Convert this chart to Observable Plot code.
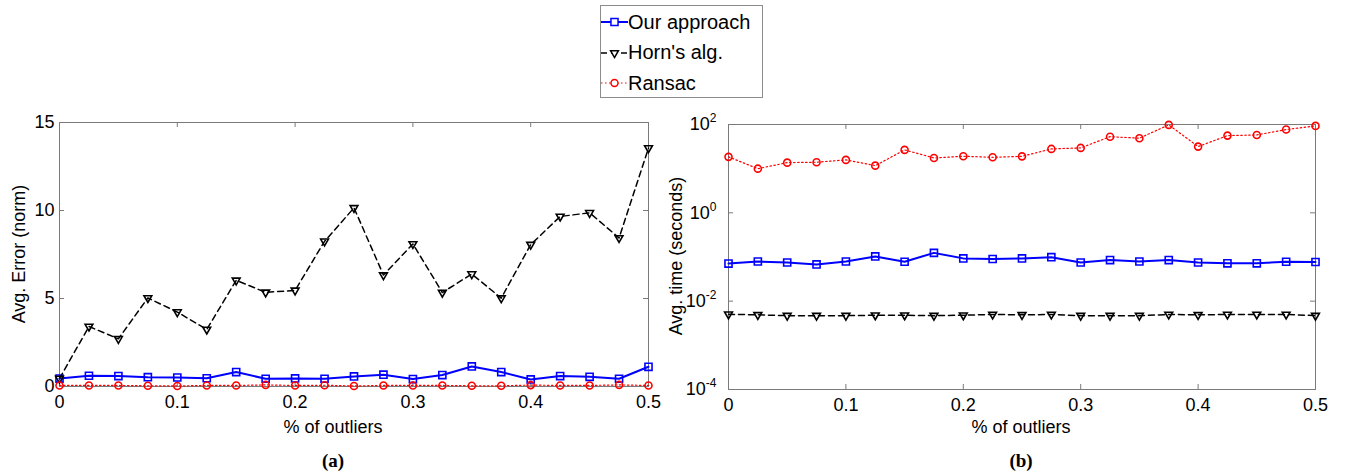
<!DOCTYPE html>
<html><head><meta charset="utf-8">
<script src="https://cdn.jsdelivr.net/npm/d3@7"></script>
<script src="https://cdn.jsdelivr.net/npm/@observablehq/plot@0.6"></script>
<style>
body{margin:0;background:#fff;}
#c{position:relative;width:1347px;height:473px;overflow:hidden;font-family:"Liberation Sans",Arial,sans-serif;color:#000;}
#c svg.plot{position:absolute;top:0;}
.lbl{position:absolute;font-size:18px;white-space:nowrap;transform:translate(-50%,-50%);}
.rot{transform:translate(-50%,-50%) rotate(-90deg);}
.cap{font-family:"Liberation Serif","Times New Roman",serif;font-weight:bold;font-size:19px;}
#legend{position:absolute;left:600px;top:5px;width:161px;height:91px;border:1px solid #8c8c8c;background:#fff;z-index:5;}
#legend .row{position:absolute;left:0;height:26px;display:flex;align-items:center;}
#legend .row span{font-size:20px;margin-left:0px;}
</style></head><body><div id="c"></div>
<script>
// ---- data ----
const outliers = [0,0.025,0.05,0.075,0.1,0.125,0.15,0.175,0.2,0.225,0.25,0.275,0.3,0.325,0.35,0.375,0.4,0.425,0.45,0.475,0.5];
const seriesNames = ["Our approach","Horn's alg.","Ransac"];
const errOur    = [0.45,0.61,0.59,0.53,0.51,0.47,0.82,0.44,0.46,0.44,0.57,0.67,0.42,0.65,1.14,0.82,0.40,0.59,0.55,0.44,1.12];
const errHorn   = [0.45,3.41,2.71,5.03,4.23,3.24,6.03,5.35,5.46,8.25,10.15,6.33,8.10,5.34,6.39,5.02,8.06,9.66,9.87,8.44,13.55];
const errRansac = [0.06,0.06,0.06,0.04,0.03,0.06,0.06,0.09,0.06,0.07,0.03,0.06,0.06,0.06,0.04,0.04,0.08,0.06,0.06,0.09,0.06];
const timeOur    = [0.071,0.079,0.075,0.068,0.079,0.103,0.078,0.124,0.093,0.090,0.093,0.099,0.075,0.085,0.079,0.085,0.075,0.072,0.072,0.078,0.077];
const timeHorn   = [0.00505,0.0049,0.0047,0.0047,0.0047,0.0048,0.0048,0.0047,0.0048,0.0050,0.0049,0.0050,0.0047,0.0047,0.0047,0.0050,0.0049,0.0050,0.0050,0.0050,0.0047];
const timeRansac = [18.5,10.0,13.7,14.0,15.8,11.7,26.6,17.5,19.1,18.1,19.0,28.0,29.5,53,49,98,31.6,56,58,77,93];
const xTicks = [0,0.1,0.2,0.3,0.4,0.5];
const errTicks = [0,5,10,15];
const timeTicks = [1e-4,1e-2,1,1e2];
const xLabel = "% of outliers";
const errLabel = "Avg. Error (norm)";
const timeLabel = "Avg. time (seconds)";
const captions = ["(a)","(b)"];

// ---- styles ----
const gray = "#7a7a7a";
const triDown = {draw(ctx, size){const y=-Math.sqrt(size/(Math.sqrt(3)*3)); ctx.moveTo(0,-2*y); ctx.lineTo(-Math.sqrt(3)*y,y); ctx.lineTo(Math.sqrt(3)*y,y); ctx.closePath();}};
const styles = [
  {stroke:"#0000ff", strokeWidth:2, dash:null, symbol:"square", r:4, fill:"none"},
  {stroke:"#000000", strokeWidth:1.5, dash:"6,4", symbol:triDown, r:2.9, fill:"none"},
  {stroke:"#ff0000", strokeWidth:1.2, dash:"1.5,2.5", symbol:"circle", r:3.5, fill:"none"}
];
const rows = arr => outliers.map((x,i)=>({x, v:arr[i]}));

function seriesMarks(arrs){
  const m=[];
  arrs.forEach((arr,k)=>{
    const s=styles[k], d=rows(arr);
    m.push(Plot.line(d,{x:"x",y:"v",stroke:s.stroke,strokeWidth:s.strokeWidth,strokeDasharray:s.dash}));
    m.push(Plot.dot(d,{x:"x",y:"v",symbol:s.symbol,r:s.r,stroke:s.stroke,fill:s.fill,strokeWidth:1.6}));
  });
  return m;
}
function frameTicks(innerW, innerH, yt){
  return [
    Plot.frame({stroke:gray}),
    Plot.tickX(xTicks,{x:d=>d,stroke:gray,insetTop:innerH-5}),
    Plot.tickX(xTicks,{x:d=>d,stroke:gray,insetBottom:innerH-5}),
    Plot.tickY(yt,{y:d=>d,stroke:gray,insetRight:innerW-5}),
    Plot.tickY(yt,{y:d=>d,stroke:gray,insetLeft:innerW-5})
  ];
}
const st = {fontFamily:"'Liberation Sans',Arial,sans-serif",fontSize:"18px",color:"black",background:"transparent",overflow:"visible"};
const H=473;
const c=document.getElementById("c");

// left plot
const L={W:660,mL:59,mR:12,mT:122,mB:87};
const p1=Plot.plot({
  width:L.W,height:H,marginLeft:L.mL,marginRight:L.mR,marginTop:L.mT,marginBottom:L.mB,
  style:st,
  x:{domain:[0,0.5]},y:{domain:[0,15]},
  marks:[
    ...frameTicks(L.W-L.mL-L.mR,H-L.mT-L.mB,errTicks),
    Plot.axisX({ticks:xTicks,tickSize:0,tickPadding:9,label:null,tickFormat:d=>String(d)}),
    Plot.axisY({ticks:errTicks,tickSize:0,tickPadding:5,label:null,tickFormat:d=>String(d)}),
    ...seriesMarks([errOur,errHorn,errRansac])
  ]
});
p1.classList.add("plot"); p1.style.left="0px"; c.appendChild(p1);

// right plot
const R={left:668,W:679,mL:60,mR:32,mT:124,mB:84};
const p2=Plot.plot({
  width:R.W,height:H,marginLeft:R.mL,marginRight:R.mR,marginTop:R.mT,marginBottom:R.mB,
  style:st,
  x:{domain:[0,0.5]},y:{type:"log",domain:[1e-4,1e2]},
  marks:[
    ...frameTicks(R.W-R.mL-R.mR,H-R.mT-R.mB,timeTicks),
    Plot.axisX({ticks:xTicks,tickSize:0,tickPadding:9,label:null,tickFormat:d=>String(d)}),
    Plot.axisY({ticks:timeTicks,tickSize:0,tickPadding:12,label:null,tickFormat:d=>String(Math.round(Math.log10(d)))}),
    ...seriesMarks([timeOur,timeHorn,timeRansac])
  ]
});
p2.classList.add("plot"); p2.style.left=R.left+"px"; c.appendChild(p2);
p2.querySelectorAll('[aria-label="y-axis tick label"] text').forEach(t=>{
  const e=t.textContent.replace("\u2212","-");
  t.textContent="10";
  const ts=document.createElementNS("http://www.w3.org/2000/svg","tspan");
  ts.setAttribute("dy","-8"); ts.setAttribute("font-size","12"); ts.textContent=e;
  t.appendChild(ts);
});

// labels
function lbl(text,x,y,cls){const d=document.createElement("div");d.className="lbl "+(cls||"");d.textContent=text;d.style.left=x+"px";d.style.top=y+"px";c.appendChild(d);}
lbl(xLabel,333,427); lbl(xLabel,1021,427);
lbl(errLabel,19,254,"rot"); lbl(timeLabel,676,256,"rot");
lbl(captions[0],333,461,"cap"); lbl(captions[1],1021,461,"cap");

// legend
const lg=document.createElement("div"); lg.id="legend"; c.appendChild(lg);
seriesNames.forEach((name,k)=>{
  const s=styles[k];
  const row=document.createElement("div"); row.className="row"; row.style.top=(3+k*30.5)+"px";
  const sv=d3.create("svg").attr("width",27).attr("height",14).style("display","block");
  sv.append("line").attr("x1",0).attr("x2",27).attr("y1",7).attr("y2",7).attr("stroke",s.stroke).attr("stroke-width",s.strokeWidth).attr("stroke-dasharray",s.dash);
  const sym = typeof s.symbol==="string" ? (s.symbol==="square"?d3.symbolSquare:d3.symbolCircle) : s.symbol;
  sv.append("path").attr("transform","translate(13.5,7)").attr("d",d3.symbol(sym,Math.PI*s.r*s.r)()).attr("fill","white").attr("stroke",s.stroke).attr("stroke-width",1.5);
  row.appendChild(sv.node());
  const sp=document.createElement("span"); sp.textContent=name; row.appendChild(sp);
  lg.appendChild(row);
});
</script></body></html>
